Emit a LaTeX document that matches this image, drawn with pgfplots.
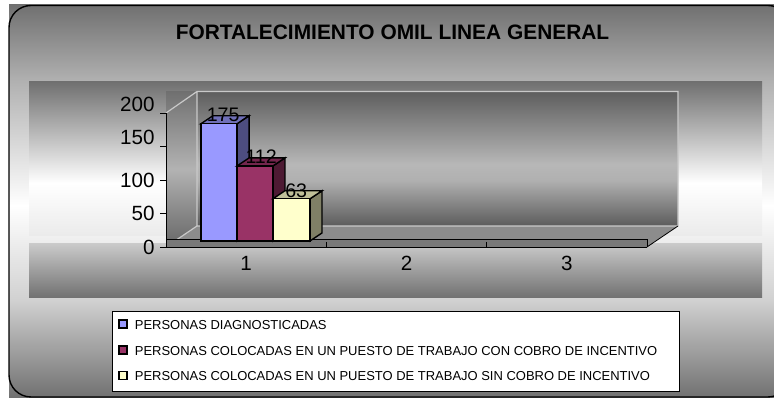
\documentclass[border=0pt]{standalone}
\usepackage{pgfplots}
\pgfplotsset{compat=1.18}
\usepackage{fontspec}
\setmainfont{Liberation Sans}
\definecolor{bA}{HTML}{9999FF}\definecolor{bAs}{HTML}{4D4D80}\definecolor{bAt}{HTML}{6F6FB8}
\definecolor{bB}{HTML}{993366}\definecolor{bBs}{HTML}{4D1A33}\definecolor{bBt}{HTML}{73264D}
\definecolor{bC}{HTML}{FFFFCC}\definecolor{bCs}{HTML}{808066}\definecolor{bCt}{HTML}{C0C099}
\definecolor{wl}{gray}{0.79}
\pgfdeclareverticalshading{outerS}{100bp}{rgb(0bp)=(.44,.44,.44);rgb(25bp)=(.44,.44,.44);rgb(37.5bp)=(.82,.82,.82);rgb(49.5bp)=(1,1,1);rgb(65.5bp)=(.69,.69,.69);rgb(75bp)=(.44,.44,.44);rgb(100bp)=(.44,.44,.44)}
\pgfdeclareverticalshading{upS}{100bp}{rgb(0bp)=(.92,.92,.92);rgb(25bp)=(.92,.92,.92);rgb(42.2bp)=(1,1,1);rgb(75bp)=(.44,.44,.44);rgb(100bp)=(.44,.44,.44)}
\pgfdeclareverticalshading{loS}{100bp}{rgb(0bp)=(.44,.44,.44);rgb(25bp)=(.44,.44,.44);rgb(75bp)=(.79,.79,.79);rgb(100bp)=(.79,.79,.79)}
\pgfdeclareverticalshading{wallS}{100bp}{rgb(0bp)=(.36,.36,.36);rgb(25bp)=(.36,.36,.36);rgb(42bp)=(.69,.69,.69);rgb(48bp)=(.72,.72,.72);rgb(75bp)=(.37,.37,.37);rgb(100bp)=(.37,.37,.37)}
\pgfdeclareverticalshading{sideS}{100bp}{rgb(0bp)=(.40,.40,.40);rgb(25bp)=(.40,.40,.40);rgb(50bp)=(.70,.70,.70);rgb(75bp)=(.44,.44,.44);rgb(100bp)=(.44,.44,.44)}
\begin{document}
\begin{tikzpicture}[x=1pt,y=1pt]
\path[use as bounding box] (0,0) rectangle (774,398);
\begin{scope}
\clip (0,0) rectangle (774,398);
\shade[shading=outerS] (9,0) rectangle (774,393);
\draw[line width=1.4pt,rounded corners=22pt] (9,1) rectangle (790,392.5);
\shade[shading=upS] (29,162) rectangle (762,316);
\shade[shading=loS] (29,100) rectangle (762,154);
% plot walls
\shade[shading=sideS] (166,151) rectangle (197,306);
\fill[gray!90] (166,151) -- (197,172) -- (678,172) -- (647,151) -- cycle;
\shade[shading=sideS] (166,285) -- (197,307) -- (197,172) -- (166,151) -- cycle;
\shade[shading=wallS] (197,172) rectangle (678,306);
\draw[wl,line width=1.2pt] (166,285) -- (197,306.5) -- (678,306.5) -- (678,172) -- (197,172) -- (197,306.5);
\draw[wl,line width=1.2pt] (197,172) -- (166,151);
\fill[gray!95!black] (166,151) rectangle (647,159);
\draw[black,line width=.8pt] (166,159) -- (647,159) -- (647,151);
\draw[black,line width=.8pt] (647,151) -- (678,172);
\end{scope}
\node[font=\fontsize{20.9}{22}\bfseries] at (392.5,366) {FORTALECIMIENTO OMIL LINEA GENERAL};
\begin{axis}[
  at={(166pt,151pt)},anchor=origin,
  scale only axis,width=481pt,height=134pt,
  xmin=0.5,xmax=3.5,ymin=0,ymax=200,
  axis lines=left,axis line style={-,black,line width=.7pt},
  clip=false,
  xtick={1,2,3},minor xtick={1.5,2.5},
  ytick={0,50,100,150,200},
  yticklabels={0,50,100,\raisebox{8.5pt}[14pt][0pt]{150},\raisebox{8pt}[14pt][0pt]{200}},
  tick align=outside,
  major x tick style={draw=none},
  minor x tick style={black,line width=.5pt,yshift=5pt},
  minor tick length=5pt,
  major tick length=6pt,
  ytick style={black,line width=.6pt},
  tick label style={font=\fontsize{20.6}{22}\selectfont},
  /pgf/number format/assume math mode=true,
  xticklabel style={yshift=0pt},
  yticklabel style={xshift=-2pt},
  legend style={at={(-0.1123,-0.4776)},anchor=north west,draw=black,fill=white,line width=.7pt,
     font=\fontsize{12.97}{14}\selectfont,row sep=11.1pt,inner xsep=6pt,inner ysep=7pt,cells={anchor=west}},
  legend image code/.code={\draw[#1,line width=1.8pt,draw=black] (0pt,-8.5pt) rectangle (8pt,-0.5pt);\path (13pt,0pt);},
]
\addplot[forget plot,fill=bAs,draw=black,line width=1.4pt,yshift=6pt] coordinates {(0.943,0)(1.018,12)(1.018,187)(0.943,175)} -- cycle;
\addplot[forget plot,fill=bAt,draw=black,line width=1.4pt,yshift=6pt] coordinates {(0.718,175)(0.793,187)(1.018,187)(0.943,175)} -- cycle;
\addplot[ybar,bar width=36pt,bar shift=-27pt,fill=bA,draw=black,line width=1.4pt,yshift=6pt,nodes near coords,nodes near coords style={font=\fontsize{19.6}{20}\selectfont,black,inner sep=1pt,xshift=-23pt}] coordinates {(1,175)};
\addplot[forget plot,fill=bBs,draw=black,line width=1.4pt,yshift=6pt] coordinates {(1.167,0)(1.242,12)(1.242,124)(1.167,112)} -- cycle;
\addplot[forget plot,fill=bBt,draw=black,line width=1.4pt,yshift=6pt] coordinates {(0.943,112)(1.018,124)(1.242,124)(1.167,112)} -- cycle;
\addplot[ybar,bar width=36pt,bar shift=9pt,fill=bB,draw=black,line width=1.4pt,yshift=6pt,nodes near coords,nodes near coords style={font=\fontsize{19.6}{20}\selectfont,black,inner sep=1pt,xshift=15pt,yshift=1pt}] coordinates {(1,112)};
\addplot[forget plot,fill=bCs,draw=black,line width=1.4pt,yshift=6pt] coordinates {(1.398,0)(1.473,12)(1.473,75)(1.398,63)} -- cycle;
\addplot[forget plot,fill=bCt,draw=black,line width=1.4pt,yshift=6pt] coordinates {(1.167,63)(1.242,75)(1.473,75)(1.398,63)} -- cycle;
\addplot[ybar,bar width=37pt,bar shift=45.5pt,fill=bC,draw=black,line width=1.4pt,yshift=6pt,nodes near coords,nodes near coords style={font=\fontsize{19.6}{20}\selectfont,black,inner sep=1pt,xshift=50pt,yshift=-1pt}] coordinates {(1,63)};
\legend{PERSONAS DIAGNOSTICADAS,PERSONAS COLOCADAS EN UN PUESTO DE TRABAJO CON COBRO DE INCENTIVO\rule{14pt}{0pt},PERSONAS COLOCADAS EN UN PUESTO DE TRABAJO SIN COBRO DE INCENTIVO}
\end{axis}
\end{tikzpicture}
\end{document}
